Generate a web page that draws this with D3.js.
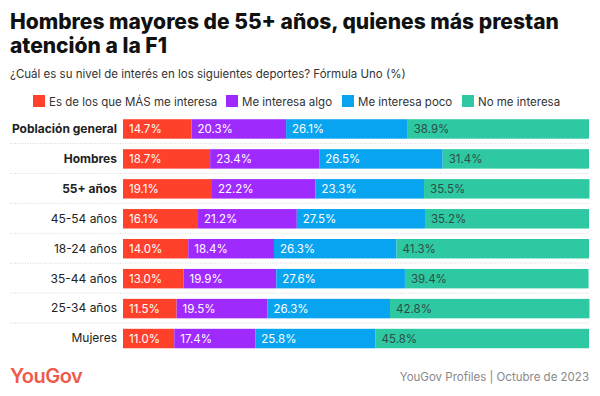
<!DOCTYPE html>
<html>
<head>
<meta charset="utf-8">
<script src="https://cdn.jsdelivr.net/npm/d3@7"></script>
<style>
  body { margin: 0; background: #fff; }
  svg { font-family: Inter, "Noto Sans", sans-serif; display: block; }
</style>
</head>
<body>
<svg id="chart" width="600" height="396"></svg>
<script>
// data
const groups = ["Población general", "Hombres", "55+ años", "45-54 años", "18-24 años", "35-44 años", "25-34 años", "Mujeres"];
const boldGroups = ["Población general", "Hombres", "55+ años"];
const seriesNames = ["Es de los que MÁS me interesa", "Me interesa algo", "Me interesa poco", "No me interesa"];
const masInteresa = [14.7, 18.7, 19.1, 16.1, 14.0, 13.0, 11.5, 11.0];
const interesaAlgo = [20.3, 23.4, 22.2, 21.2, 18.4, 19.9, 19.5, 17.4];
const interesaPoco = [26.1, 26.5, 23.3, 27.5, 26.3, 27.6, 26.3, 25.8];
const noInteresa = [38.9, 31.4, 35.5, 35.2, 41.3, 39.4, 42.8, 45.8];
const colors = ["#ff412c", "#9f2afe", "#08a4f0", "#2ec8a2"];
const labelColors = ["#fff", "#fff", "#fff", "#2f4d46"];

const rows = groups.map((g, i) => ({
  group: g,
  s0: masInteresa[i], s1: interesaAlgo[i], s2: interesaPoco[i], s3: noInteresa[i]
}));
const keys = ["s0", "s1", "s2", "s3"];

const svg = d3.select("#chart");

// title
svg.append("text")
  .attr("x", 10).attr("y", 29)
  .attr("font-size", 21).attr("font-weight", 800).attr("fill", "#111")
  .text("Hombres mayores de 55+ años, quienes más prestan");
svg.append("text")
  .attr("x", 10).attr("y", 53)
  .attr("font-size", 21).attr("font-weight", 800).attr("fill", "#111")
  .text("atención a la F1");

svg.append("text")
  .attr("x", 10).attr("y", 78)
  .attr("font-size", 11.5).attr("fill", "#333")
  .text("¿Cuál es su nivel de interés en los siguientes deportes? Fórmula Uno (%)");

// legend
const legendX = [33, 226, 342, 462];
const legend = svg.append("g");
seriesNames.forEach((name, i) => {
  const g = legend.append("g").attr("transform", `translate(${legendX[i]},95)`);
  g.append("rect").attr("width", 12).attr("height", 12).attr("fill", colors[i]);
  g.append("text").attr("x", 16).attr("y", 10.5)
    .attr("font-size", 11.5).attr("fill", "#333").text(name);
});

// scales
const x = d3.scaleLinear().domain([0, 100]).range([123, 589]);
const y = d3.scaleBand().domain(groups).range([114, 353.5])
  .paddingInner(0.35).paddingOuter(0.175);

// dotted separators
svg.append("g").selectAll("line")
  .data(groups.slice(1))
  .join("line")
  .attr("x1", 10).attr("x2", 589)
  .attr("y1", d => y(d) - y.step() * 0.175 - 0.5)
  .attr("y2", d => y(d) - y.step() * 0.175 - 0.5)
  .attr("stroke", "#d6d6d6").attr("stroke-width", 1)
  .attr("stroke-dasharray", "1,1.5");

// stacked bars
const stacked = d3.stack().keys(keys)(rows);

const layers = svg.append("g").selectAll("g")
  .data(stacked)
  .join("g")
  .attr("fill", (d, i) => colors[i]);

layers.selectAll("rect")
  .data(d => d)
  .join("rect")
  .attr("x", d => x(d[0]))
  .attr("y", d => y(d.data.group))
  .attr("width", d => x(d[1]) - x(d[0]))
  .attr("height", y.bandwidth());

layers.each(function(layer, i) {
  d3.select(this).selectAll("text")
    .data(layer)
    .join("text")
    .attr("x", d => x(d[0]) + 6)
    .attr("y", d => y(d.data.group) + y.bandwidth() / 2)
    .attr("dy", "0.36em")
    .attr("font-size", 11.5)
    .attr("fill", labelColors[i])
    .text(d => d.data[layer.key].toFixed(1) + "%");
});

// category axis
const yAxis = svg.append("g")
  .attr("transform", "translate(117,0)")
  .call(d3.axisLeft(y).tickSize(0).tickPadding(0));
yAxis.select(".domain").remove();
yAxis.selectAll("text")
  .attr("font-family", "Inter, 'Noto Sans', sans-serif")
  .attr("font-size", 12)
  .attr("fill", "#222")
  .attr("font-weight", d => boldGroups.includes(d) ? 700 : 400);

// footer
svg.append("text")
  .attr("x", 10).attr("y", 383)
  .attr("font-size", 20).attr("font-weight", 600)
  .attr("fill", "#ee5a4c").attr("letter-spacing", -0.5)
  .text("YouGov");
svg.append("text")
  .attr("x", 589).attr("y", 381)
  .attr("text-anchor", "end")
  .attr("font-size", 11.5).attr("fill", "#888")
  .text("YouGov Profiles | Octubre de 2023");
</script>
</body>
</html>
